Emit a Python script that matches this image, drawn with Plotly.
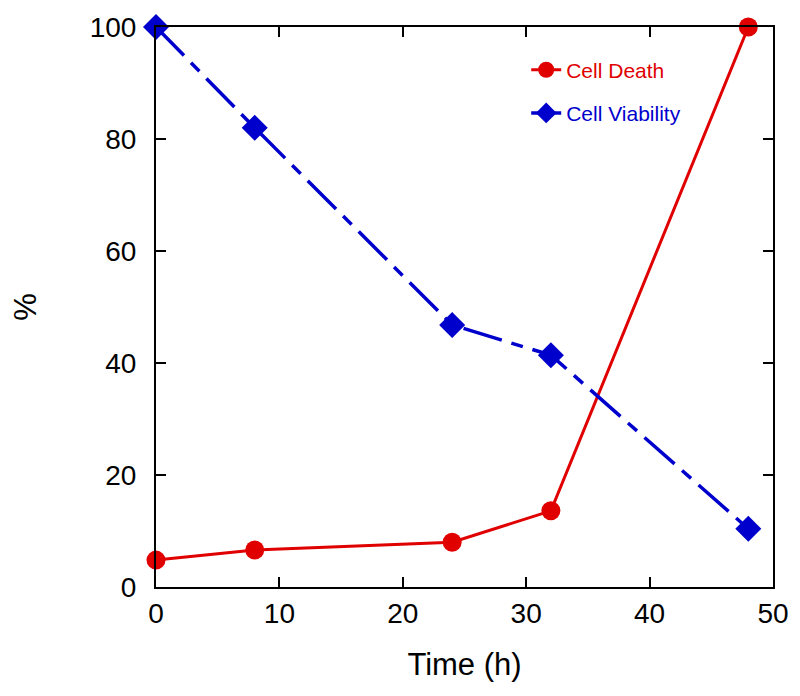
import plotly.graph_objects as go

time_h = [0, 8, 24, 32, 48]
cell_death = [4.8, 6.6, 8.0, 13.6, 100]
cell_viability = [100, 82, 46.8, 41.4, 10.4]

RED = "#e00000"
BLUE = "#0000cc"
FONT = "Liberation Sans, Arial, sans-serif"

fig = go.Figure()
fig.add_trace(go.Scatter(
    x=time_h, y=cell_death, name="Cell Death", mode="lines+markers",
    line=dict(color=RED, width=3),
    marker=dict(symbol="circle", size=19, color=RED),
    cliponaxis=False, legend="legend"))
fig.add_trace(go.Scatter(
    x=time_h, y=cell_viability, name="Cell Viability", mode="lines+markers",
    line=dict(color=BLUE, width=3.5, dash="40px,10px,12px,10px"),
    marker=dict(symbol="diamond", size=20, color=BLUE),
    cliponaxis=False, legend="legend2"))

axis_common = dict(
    showgrid=False, zeroline=False, showline=True, linecolor="black", linewidth=2,
    ticks="inside", ticklen=10, tickwidth=1.5, tickcolor="black", mirror="ticks",
    tickfont=dict(family=FONT, size=28, color="black"), automargin=False,
)
fig.update_xaxes(range=[0, 50], tickvals=[0, 10, 20, 30, 40, 50],
                 title=dict(text="Time (h)", font=dict(family=FONT, size=31, color="black"), standoff=26),
                 **axis_common)
fig.update_yaxes(range=[0, 100], tickvals=[0, 20, 40, 60, 80, 100], ticklabelstandoff=12,
                 title=dict(text="%", font=dict(family=FONT, size=31, color="black"), standoff=50),
                 **axis_common)

fig.update_layout(
    width=792, height=688,
    margin=dict(l=148, r=27, t=19, b=109),
    paper_bgcolor="white", plot_bgcolor="white",
    font=dict(family=FONT),
    showlegend=True,
    legend=dict(x=0.60, y=0.923, xanchor="left", yanchor="middle",
                bgcolor="rgba(0,0,0,0)", font=dict(family=FONT, size=21, color=RED)),
    legend2=dict(x=0.60, y=0.846, xanchor="left", yanchor="middle",
                 bgcolor="rgba(0,0,0,0)", font=dict(family=FONT, size=21, color=BLUE)),
)

fig.write_html("out.html")
